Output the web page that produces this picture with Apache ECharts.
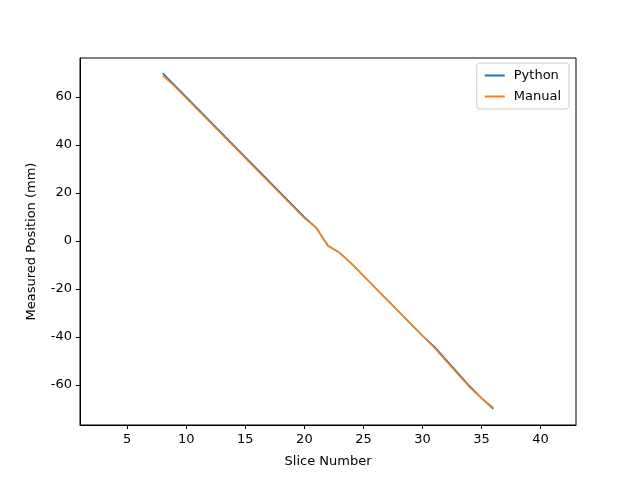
<!DOCTYPE html>
<html><head><meta charset="utf-8">
<script src="https://cdn.jsdelivr.net/npm/echarts@6/dist/echarts.min.js"></script>
<style>html,body{margin:0;background:#fff}#c{width:640px;height:478px}</style>
</head><body><div id="c"></div>
<script>
// slice numbers and measured positions (mm)
const slices = [8,9,10,11,12,13,14,15,16,17,18,19,20,21,22,23,24,25,26,27,28,29,30,31,32,33,34,35,36];
const python = [70,65,60,55,50,45,40,35,30,25,20,15,10,5.5,-2,-5,-9.5,-14.5,-19.5,-24.5,-29.5,-34.5,-39.5,-44,-49.5,-55,-60.5,-65.5,-70];
const manual = [69,64.5,59.5,54.5,49.5,44.5,39.5,34.5,29.5,24.5,19.5,14.5,9.5,5.5,-2,-5,-9.5,-14.5,-19.5,-24.5,-29.5,-34.5,-39.5,-44.5,-50,-55.5,-61,-65.5,-69.5];
const xTicks = [5,10,15,20,25,30,35,40];
const yTicks = [-60,-40,-20,0,20,40,60];

const chart = echarts.init(document.getElementById("c"));
const font = "DejaVu Sans";
const axisCommon = {
  axisLine:{show:true,onZero:false,lineStyle:{color:"#000",width:1}},
  axisTick:{show:true,inside:false,length:4,lineStyle:{color:"#000"}},
  splitLine:{show:false},
  nameTextStyle:{fontFamily:font,fontSize:13,color:"#000"}
};
chart.setOption({
  animation:false,
  grid:{left:80,right:64,top:58,bottom:53,show:true,borderColor:"#000",borderWidth:1},
  legend:{
    right:71,top:63,orient:"vertical",
    data:["Python","Manual"],
    icon:"path://M0,0H30V3H0Z",itemWidth:28,itemHeight:2,itemGap:8,
    textStyle:{fontFamily:font,fontSize:13,color:"#000"},
    borderColor:"#ccc",borderWidth:1,borderRadius:3,padding:[6,8,6,8]
  },
  xAxis:Object.assign({
    type:"value",min:1,max:43,name:"Slice Number",nameLocation:"middle",nameGap:30,
    axisLabel:{customValues:xTicks,fontFamily:font,fontSize:13,color:"#000"}
  },axisCommon,{axisTick:{show:true,customValues:xTicks,length:4,lineStyle:{color:"#000"}}}),
  yAxis:Object.assign({
    type:"value",min:-76.7,max:76.25,name:"Measured Position (mm)",nameLocation:"middle",nameGap:42,
    axisLabel:{customValues:yTicks,fontFamily:font,fontSize:13,color:"#000"}
  },axisCommon,{axisTick:{show:true,customValues:yTicks,length:4,lineStyle:{color:"#000"}}}),
  series:[
    {name:"Python",type:"line",showSymbol:false,data:slices.map((s,i)=>[s,python[i]]),
     lineStyle:{color:"#1f77b4",width:1.5},itemStyle:{color:"#1f77b4"}},
    {name:"Manual",type:"line",showSymbol:false,data:slices.map((s,i)=>[s,manual[i]]),
     lineStyle:{color:"#ff7f0e",width:1.5},itemStyle:{color:"#ff7f0e"}}
  ]
});
</script></body></html>
